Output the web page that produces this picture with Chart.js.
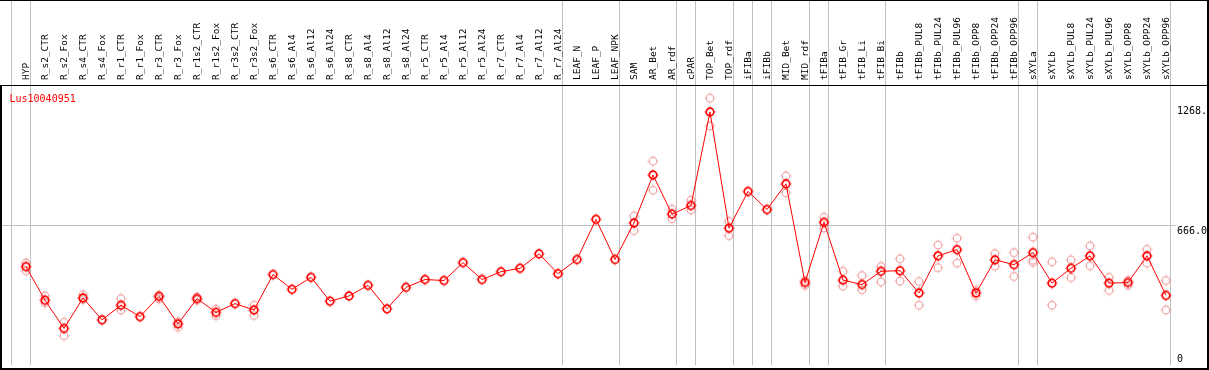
<!DOCTYPE html>
<html>
<head>
<meta charset="utf-8">
<script src="https://cdn.jsdelivr.net/npm/chart.js@4.4.0/dist/chart.umd.min.js"></script>
<style>
  html, body { margin: 0; padding: 0; background: #fff; }
  canvas { display: block; }
</style>
</head>
<body>
<canvas id="chart" width="1209" height="370"></canvas>
<script>
// sample names, left to right
const samples = [
  'HYP', 'R_s2_CTR', 'R_s2_Fox', 'R_s4_CTR', 'R_s4_Fox', 'R_r1_CTR', 'R_r1_Fox', 'R_r3_CTR', 'R_r3_Fox',
  'R_r1s2_CTR', 'R_r1s2_Fox', 'R_r3s2_CTR', 'R_r3s2_Fox', 'R_s6_CTR', 'R_s6_Al4', 'R_s6_Al12', 'R_s6_Al24',
  'R_s8_CTR', 'R_s8_Al4', 'R_s8_Al12', 'R_s8_Al24', 'R_r5_CTR', 'R_r5_Al4', 'R_r5_Al12', 'R_r5_Al24',
  'R_r7_CTR', 'R_r7_Al4', 'R_r7_Al12', 'R_r7_Al24', 'LEAF_N', 'LEAF_P', 'LEAF_NPK', 'SAM', 'AR_Bet', 'AR_rdf',
  'cPAR', 'TOP_Bet', 'TOP_rdf', 'iFIBa', 'iFIBb', 'MID_Bet', 'MID_rdf', 'tFIBa', 'tFIB_Gr', 'tFIB_Li', 'tFIB_Bi',
  'tFIBb', 'tFIBb_PUL8', 'tFIBb_PUL24', 'tFIBb_PUL96', 'tFIBb_OPP8', 'tFIBb_OPP24', 'tFIBb_OPP96',
  'sXYLa', 'sXYLb', 'sXYLb_PUL8', 'sXYLb_PUL24', 'sXYLb_PUL96', 'sXYLb_OPP8', 'sXYLb_OPP24', 'sXYLb_OPP96'
];

// mean expression (the joined line)
const meanValues = [
  463, 296, 155, 307, 198, 271, 214, 315, 178, 304,
  235, 279, 247, 424, 350, 410, 291, 317, 370, 253,
  360, 399, 394, 483, 399, 438, 455, 527, 428, 499,
  699, 499, 681, 920, 725, 768, 1234, 655, 838, 748,
  876, 384, 684, 396, 374, 440, 443, 332, 517, 548,
  332, 497, 473, 533, 381, 455, 517, 381, 384, 517, 320
];

// replicate values (pale circles), null where none is visible
const rep1 = [
  481, 317, 186, 323, null, 304, null, 320, 189, 312,
  252, null, 271, null, null, null, null, null, null, null,
  null, null, null, null, null, null, null, null, null, null,
  null, null, 715, 989, 749, 794, 1303, 689, null, null,
  915, 394, 709, 440, 419, 464, 502, 389, 571, 605,
  345, 528, 533, 610, 487, 497, 566, 409, 394, 549, 394
];
const rep2 = [
  443, 283, 119, 299, null, 247, null, 302, 161, 296,
  219, null, 220, null, null, null, null, null, null, null,
  null, null, null, null, null, null, null, null, null, null,
  null, null, 643, 844, 702, 746, 1164, 618, null, null,
  831, 370, 656, 366, 348, 387, 391, 271, 458, 481,
  317, 466, 414, 495, 271, 409, 468, 345, 370, 481, 247
];
const rep3 = [
  null, null, null, null, null, null, null, null, null, null,
  null, null, null, null, null, null, null, null, null, null,
  null, null, null, null, null, null, null, null, null, null,
  null, null, null, null, null, null, null, null, null, null,
  null, null, null, null, null, null, null, null, null, null,
  null, null, null, 484, null, null, null, null, null, null, null
];

const yTicks = [0, 666, 1268];
const gridValues = [666];
// sample index after which a group separator is drawn
const groupEnds = [-1, 0, 28, 31, 34, 35, 37, 38, 39, 41, 42, 45, 52, 53, 60];
const geneId = 'Lus10040951';

function makeMarker(color, lw) {
  const c = document.createElement('canvas');
  c.width = 14; c.height = 14;
  const g = c.getContext('2d');
  g.strokeStyle = color;
  g.lineWidth = lw;
  g.beginPath();
  g.arc(7, 7, 3.8, 0, Math.PI * 2);
  g.stroke();
  g.lineWidth = 1;
  g.beginPath();
  g.moveTo(7, 1.5); g.lineTo(7, 2.5);
  g.moveTo(7, 11.5); g.lineTo(7, 12.5);
  g.moveTo(1.5, 7); g.lineTo(2.5, 7);
  g.moveTo(11.5, 7); g.lineTo(12.5, 7);
  g.stroke();
  return c;
}
const mainMarker = makeMarker('#ff0000', 1.7);
const repMarker = makeMarker('#f0a0a0', 1.2);

const overlay = {
  id: 'overlay',
  beforeDraw(chart) {
    const { ctx, chartArea: a, scales: { x, y } } = chart;
    ctx.save();
    ctx.strokeStyle = '#c0c0c0';
    ctx.lineWidth = 1;
    groupEnds.forEach(i => {
      const px = Math.floor(x.getPixelForValue(i) + 4.5) + 0.5;
      ctx.beginPath();
      ctx.moveTo(px, 0);
      ctx.lineTo(px, a.bottom);
      ctx.stroke();
    });
    gridValues.forEach(v => {
      const py = Math.floor(y.getPixelForValue(v)) + 0.5;
      ctx.beginPath();
      ctx.moveTo(2, py);
      ctx.lineTo(a.right + 1, py);
      ctx.stroke();
    });
    ctx.restore();
  },
  afterDraw(chart) {
    const { ctx, chartArea: a, scales: { y } } = chart;
    ctx.save();
    ctx.font = '10px "DejaVu Sans Mono"';
    ctx.textBaseline = 'alphabetic';
    ctx.fillStyle = '#000';
    yTicks.forEach(v => {
      const py = Math.min(y.getPixelForValue(v) + 8.5, a.bottom - 3);
      ctx.fillText(v === 0 ? '0' : v.toFixed(1), a.right + 1.5, py);
    });
    ctx.fillStyle = '#ff0000';
    ctx.fillText(geneId, 9.5, 101.5);
    // frame
    ctx.fillStyle = '#000';
    ctx.fillRect(0, 0, 1209, 1);
    ctx.fillRect(0, 85, 1209, 1);
    ctx.fillRect(0, 368, 1209, 2);
    ctx.fillRect(1207, 0, 2, 370);
    ctx.fillRect(0, 85, 2, 285);
    ctx.restore();
  }
};

new Chart(document.getElementById('chart'), {
  type: 'line',
  data: {
    labels: samples,
    datasets: [
      {
        data: meanValues,
        borderColor: '#ff0000',
        borderWidth: 1,
        tension: 0,
        pointStyle: mainMarker,
        pointRadius: 4,
        order: 0
      },
      { data: rep1, showLine: false, pointStyle: repMarker, pointRadius: 4, order: 1 },
      { data: rep2, showLine: false, pointStyle: repMarker, pointRadius: 4, order: 1 },
      { data: rep3, showLine: false, pointStyle: repMarker, pointRadius: 4, order: 1 }
    ]
  },
  options: {
    responsive: false,
    animation: false,
    devicePixelRatio: 1,
    events: [],
    layout: { padding: { left: 16.5, right: 0, top: 0, bottom: 1 } },
    plugins: { legend: { display: false }, tooltip: { enabled: false } },
    scales: {
      x: {
        type: 'category',
        position: 'top',
        offset: true,
        grid: { display: false, tickLength: 0 },
        border: { display: false },
        ticks: {
          autoSkip: false,
          maxRotation: 90,
          minRotation: 90,
          padding: 5,
          labelOffset: 11.5,
          color: '#000',
          font: { family: 'DejaVu Sans Mono', size: 9.5 }
        },
        afterFit: s => { s.height = 85; }
      },
      y: {
        position: 'right',
        min: -27,
        max: 1368.5,
        grid: { display: false },
        border: { display: false },
        ticks: { display: false },
        afterFit: s => { s.width = 33.5; }
      }
    }
  },
  plugins: [overlay]
});
</script>
</body>
</html>
